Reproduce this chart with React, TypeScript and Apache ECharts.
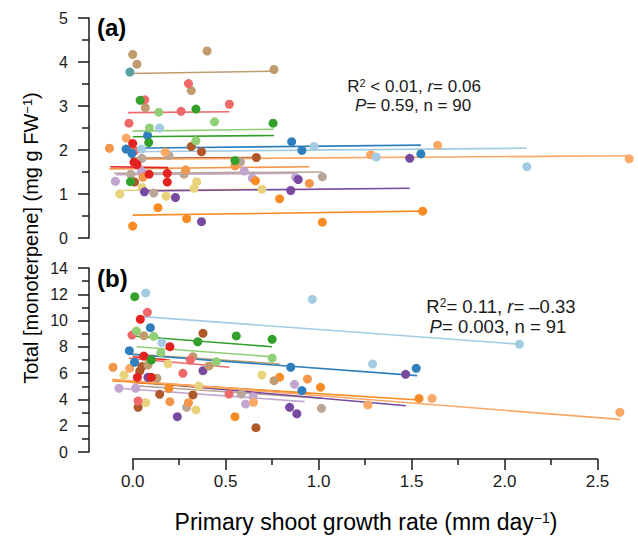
import React, { useEffect, useRef } from "react";
import * as echarts from "echarts";

// ---- Panel (a): x = primary shoot growth rate, y = total monoterpene ----
const tanA = [[0.0, 4.17], [0.023, 3.95], [0.4, 4.25], [0.76, 3.83], [0.315, 3.35], [0.068, 2.96]];
const tanFitA = [[-0.02, 3.74], [0.76, 3.79]];
const tealA = [[-0.015, 3.77]];
const pinkA = [[0.3, 3.51], [0.065, 3.14], [0.26, 2.88], [0.52, 3.04], [-0.02, 2.61], [0.01, 1.98]];
const pinkFitA = [[-0.025, 2.85], [0.52, 2.87]];
const greenA = [[0.04, 3.13], [0.34, 2.93], [0.755, 2.61], [0.086, 2.17], [-0.012, 1.28], [0.55, 1.76]];
const greenFitA = [[0.0, 2.3], [0.76, 2.33]];
const lightGreenA = [[0.14, 2.86], [0.09, 2.5], [0.44, 2.64], [0.34, 2.21]];
const lightGreenFitA = [[0.0, 2.43], [0.76, 2.47]];
const lightBlueA = [[0.145, 2.5], [0.047, 2.02], [0.975, 2.08], [1.31, 1.84], [2.12, 1.62]];
const lightBlueFitA = [[-0.02, 1.96], [2.12, 2.04]];
const blueA = [[0.08, 2.33], [-0.036, 2.02], [-0.004, 1.92], [0.855, 2.19], [0.91, 1.99], [1.55, 1.91]];
const blueFitA = [[-0.035, 2.04], [1.55, 2.11]];
const lightOrangeA = [[-0.035, 2.27], [0.175, 1.95], [1.28, 1.89], [1.64, 2.11], [2.67, 1.8]];
const lightOrangeFitA = [[0.0, 1.79], [2.67, 1.87]];
const orange2A = [[-0.125, 2.04], [0.285, 1.55], [0.55, 1.64], [0.055, 1.38], [0.95, 1.24]];
const orange2FitA = [[-0.125, 1.57], [0.95, 1.62]];
const orangeA = [[0.136, 0.69], [0.29, 0.44], [0.0, 0.27], [0.79, 0.89], [1.56, 0.61], [1.02, 0.36], [0.66, 1.3]];
const orangeFitA = [[0.0, 0.52], [1.56, 0.61]];
const redA = [[0.0, 2.15], [0.007, 1.72], [0.023, 1.67], [0.088, 1.45], [0.186, 1.47], [0.186, 1.27]];
const redFitA = [[-0.12, 1.62], [0.19, 1.6]];
const brownA = [[0.315, 2.08], [0.37, 1.96], [0.665, 1.83], [0.01, 1.27]];
const brownFitA = [[-0.01, 1.81], [0.665, 1.83]];
const grayTanA = [[0.05, 1.81], [0.195, 1.87], [0.58, 1.73], [-0.01, 1.45], [0.276, 1.45], [0.113, 1.02], [1.02, 1.39]];
const grayTanFitA = [[-0.1, 1.47], [1.02, 1.5]];
const lightPurpleA = [[0.047, 1.52], [0.6, 1.52], [-0.093, 1.29], [0.643, 1.36], [0.876, 1.38]];
const lightPurpleFitA = [[-0.09, 1.44], [0.88, 1.47]];
const purpleA = [[0.063, 1.05], [0.23, 0.92], [0.37, 0.37], [0.89, 1.33], [0.85, 1.08], [1.49, 1.81]];
const purpleFitA = [[0.06, 1.07], [1.49, 1.13]];
const yellowA = [[-0.07, 1.0], [0.05, 1.15], [0.18, 0.95], [0.33, 1.13], [0.344, 1.28], [0.695, 1.11]];
const yellowFitA = [[-0.07, 1.08], [0.695, 1.11]];

// ---- Panel (b) ----
const lightBlueB = [[0.07, 12.1], [0.157, 8.32], [0.966, 11.62], [1.29, 6.7], [2.08, 8.2]];
const lightBlueFitB = [[0.055, 10.3], [2.08, 8.2]];
const greenB = [[0.011, 11.82], [0.35, 8.39], [0.557, 8.83], [0.75, 8.57], [0.1, 7.0]];
const greenFitB = [[0.0, 8.83], [0.75, 8.01]];
const pinkB = [[0.079, 10.63], [-0.004, 8.9], [0.31, 7.0], [0.27, 5.99], [0.518, 4.41], [0.029, 3.88]];
const pinkFitB = [[-0.02, 7.13], [0.52, 6.45]];
const redB = [[0.041, 10.1], [0.2, 8.01], [0.025, 5.68], [0.1, 5.68], [0.06, 7.3]];
const redFitB = [[0.0, 7.25], [0.2, 7.0]];
const blueB = [[0.095, 9.46], [-0.018, 7.71], [0.01, 6.83], [0.85, 6.45], [1.525, 6.37], [0.91, 4.67]];
const blueFitB = [[-0.02, 7.44], [1.53, 5.81]];
const brownB = [[0.378, 9.03], [0.038, 6.16], [0.145, 4.39], [0.324, 4.34], [0.029, 3.4], [0.663, 1.85], [0.05, 6.5]];
const brownFitB = [[0.0, 5.3], [0.67, 4.7]];
const lightGreenB = [[0.02, 9.2], [0.113, 8.8], [0.152, 7.56], [0.75, 7.15], [0.45, 6.87]];
const lightGreenFitB = [[0.02, 8.01], [0.75, 7.25]];
const tanB = [[0.324, 7.25], [0.41, 6.55], [0.082, 6.62], [0.13, 5.61], [0.76, 5.43], [0.06, 8.85]];
const tanFitB = [[0.0, 7.46], [0.79, 6.7]];
const purpleB = [[0.378, 6.19], [0.082, 5.68], [0.24, 2.69], [0.844, 3.4], [0.883, 2.91], [1.468, 5.91]];
const purpleFitB = [[0.08, 5.27], [1.47, 3.52]];
const lightOrangeB = [[-0.016, 6.37], [1.265, 3.58], [1.61, 4.08], [2.62, 3.02], [0.65, 3.78]];
const lightOrangeFitB = [[-0.11, 5.53], [2.62, 2.48]];
const orange2B = [[-0.106, 6.45], [0.94, 5.55], [0.2, 3.83], [0.3, 3.75]];
const orange2FitB = [[-0.1, 5.45], [0.95, 4.45]];
const orangeB = [[0.79, 5.68], [0.195, 4.85], [0.55, 2.69], [1.01, 4.92], [1.54, 4.08]];
const orangeFitB = [[-0.11, 5.42], [1.54, 3.96]];
const yellowB = [[-0.047, 5.86], [0.19, 6.7], [0.695, 5.86], [0.355, 5.02], [0.07, 3.75], [0.34, 3.2]];
const yellowFitB = [[0.02, 5.35], [0.69, 4.59]];
const lightPurpleB = [[-0.074, 4.85], [0.016, 4.85], [0.647, 4.21], [0.607, 3.65], [0.87, 5.15]];
const lightPurpleFitB = [[-0.074, 4.85], [0.925, 3.83]];
const grayTanB = [[0.584, 4.41], [0.29, 3.4], [1.015, 3.32]];
const grayTanFitB = [[0.0, 5.05], [1.02, 4.1]];

// ---- Axis ticks ----
const xTicks = [0, 0.5, 1.0, 1.5, 2.0, 2.5];
const yTicksA = [0, 1, 2, 3, 4, 5];
const yTicksB = [0, 2, 4, 6, 8, 10, 12, 14];

const groups = [
  { color: "#e8d27c", a: yellowA, fa: yellowFitA, b: yellowB, fb: yellowFitB },
  { color: "#c3a6d0", a: lightPurpleA, fa: lightPurpleFitA, b: lightPurpleB, fb: lightPurpleFitB },
  { color: "#b9a697", a: grayTanA, fa: grayTanFitA, b: grayTanB, fb: grayTanFitB },
  { color: "#774a9f", a: purpleA, fa: purpleFitA, b: purpleB, fb: purpleFitB },
  { color: "#b0582a", a: brownA, fa: brownFitA, b: brownB, fb: brownFitB },
  { color: "#f4964a", a: orange2A, fa: orange2FitA, b: orange2B, fb: orange2FitB },
  { color: "#f98b25", a: orangeA, fa: orangeFitA, b: orangeB, fb: orangeFitB },
  { color: "#f9a866", a: lightOrangeA, fa: lightOrangeFitA, b: lightOrangeB, fb: lightOrangeFitB },
  { color: "#bf9b6e", a: tanA, fa: tanFitA, b: tanB, fb: tanFitB },
  { color: "#5a9f9f", a: tealA, fa: null, b: [], fb: null },
  { color: "#f0696a", a: pinkA, fa: pinkFitA, b: pinkB, fb: pinkFitB },
  { color: "#e3211f", a: redA, fa: redFitA, b: redB, fb: redFitB },
  { color: "#2f7fbd", a: blueA, fa: blueFitA, b: blueB, fb: blueFitB },
  { color: "#a3cbe2", a: lightBlueA, fa: lightBlueFitA, b: lightBlueB, fb: lightBlueFitB },
  { color: "#90cf76", a: lightGreenA, fa: lightGreenFitA, b: lightGreenB, fb: lightGreenFitB },
  { color: "#33a02c", a: greenA, fa: greenFitA, b: greenB, fb: greenFitB },
];

const FONT = "'Liberation Sans', Arial, Helvetica, sans-serif";
const INK = "#1a1a1a";
const XMIN = -0.235;
const XMAX = 2.68;

export default function App() {
  const ref = useRef<HTMLDivElement>(null);
  useEffect(() => {
    if (!ref.current) return;
    const chart = echarts.init(ref.current, null, { renderer: "svg" });

    const series: any[] = [];
    groups.forEach((g) => {
      if (g.fa) series.push({ type: "line", xAxisIndex: 0, yAxisIndex: 0, data: g.fa, symbol: "none", silent: true, z: 2, lineStyle: { color: g.color, width: 1.6 } });
      if (g.fb) series.push({ type: "line", xAxisIndex: 1, yAxisIndex: 1, data: g.fb, symbol: "none", silent: true, z: 2, lineStyle: { color: g.color, width: 1.6 } });
    });
    groups.forEach((g) => {
      series.push({ type: "scatter", xAxisIndex: 0, yAxisIndex: 0, data: g.a, symbolSize: 9, silent: true, z: 3, itemStyle: { color: g.color, opacity: 1 } });
      series.push({ type: "scatter", xAxisIndex: 1, yAxisIndex: 1, data: g.b, symbolSize: 9, silent: true, z: 3, itemStyle: { color: g.color, opacity: 1 } });
    });

    const axisLine = { show: true, onZero: false, lineStyle: { color: INK, width: 1.5 } };
    const yAxisCommon = (ticks: number[], step: number) => ({
      type: "value",
      min: ticks[0],
      max: ticks[ticks.length - 1],
      interval: step,
      axisLine,
      axisTick: { show: true, length: 11, lineStyle: { color: INK, width: 1.5 } },
      minorTick: { show: true, splitNumber: 2, length: 7, lineStyle: { color: INK, width: 1.5 } },
      splitLine: { show: false },
      axisLabel: { fontSize: 16, color: INK, fontFamily: FONT, margin: 21 },
    });

    const mkRich = (fs: number) => ({
      t: { fontSize: fs, fontFamily: FONT, color: INK },
      i: { fontSize: fs, fontFamily: FONT, color: INK, fontStyle: "italic" },
      sup: { fontSize: Math.round(fs * 0.65), fontFamily: FONT, color: INK, verticalAlign: "top", lineHeight: Math.round(fs * 0.65) },
    });
    const note = (text: string, x: number, y: number, fs: number) => ({
      type: "text",
      x,
      y,
      silent: true,
      style: { text, rich: mkRich(fs), align: "center", verticalAlign: "middle", font: `${fs}px ${FONT}`, fill: INK },
    });

    chart.setOption({
      animation: false,
      backgroundColor: "#ffffff",
      grid: [
        { left: 89, right: 7, top: 18, height: 220 },
        { left: 89, right: 7, top: 268, height: 184 },
        { left: 132.7, right: 40.5, top: 458, height: 1 },
      ],
      xAxis: [
        { gridIndex: 0, type: "value", min: XMIN, max: XMAX, show: false, axisLine: { onZero: false } },
        { gridIndex: 1, type: "value", min: XMIN, max: XMAX, show: false, axisLine: { onZero: false } },
        {
          gridIndex: 2,
          type: "value",
          min: xTicks[0],
          max: xTicks[xTicks.length - 1],
          interval: 0.5,
          axisLine,
          axisTick: { show: true, length: 11, lineStyle: { color: INK, width: 1.5 } },
          minorTick: { show: true, splitNumber: 2, length: 6, lineStyle: { color: INK, width: 1.5 } },
          splitLine: { show: false },
          axisLabel: { fontSize: 17, color: INK, fontFamily: FONT, margin: 14, formatter: (v: number) => v.toFixed(1) },
        },
      ],
      yAxis: [
        { gridIndex: 0, ...yAxisCommon(yTicksA, 1) },
        { gridIndex: 1, ...yAxisCommon(yTicksB, 2) },
        { gridIndex: 2, type: "value", min: 0, max: 1, show: false },
      ],
      graphic: [
        { type: "text", x: 97, y: 27, silent: true, style: { text: "(a)", font: `bold 24px ${FONT}`, fill: "#000", align: "left", verticalAlign: "middle" } },
        { type: "text", x: 97, y: 278, silent: true, style: { text: "(b)", font: `bold 24px ${FONT}`, fill: "#000", align: "left", verticalAlign: "middle" } },
        note("{t|R}{sup|2}{t| < 0.01, }{i|r}{t|= 0.06}", 414, 86, 17),
        note("{i|P}{t|= 0.59, n = 90}", 413, 105, 17),
        note("{t|R}{sup|2}{t|= 0.11, }{i|r}{t|= –0.33}", 501, 306, 18.5),
        note("{i|P}{t|= 0.003, n = 91}", 498, 326, 18.5),
        {
          type: "text",
          x: 31,
          y: 238,
          rotation: Math.PI / 2,
          silent: true,
          style: {
            text: "{t|Total [monoterpene] (mg g FW}{sup|−1}{t|)}",
            rich: {
              t: { fontSize: 20, fontFamily: FONT, color: INK },
              sup: { fontSize: 13, fontFamily: FONT, color: INK, verticalAlign: "top", lineHeight: 13 },
            },
            align: "center",
            verticalAlign: "middle",
            font: `20px ${FONT}`,
          },
        },
        {
          type: "text",
          x: 366,
          y: 522,
          silent: true,
          style: {
            text: "{t|Primary shoot growth rate (mm day}{sup|−1}{t|)}",
            rich: {
              t: { fontSize: 23, fontFamily: FONT, color: INK },
              sup: { fontSize: 14, fontFamily: FONT, color: INK, verticalAlign: "top", lineHeight: 14 },
            },
            align: "center",
            verticalAlign: "middle",
            font: `23px ${FONT}`,
          },
        },
      ],
      series,
    });
    return () => chart.dispose();
  }, []);
  return <div ref={ref} style={{ position: "fixed", left: 0, top: 0, width: 638, height: 537, background: "#fff" }} />;
}
